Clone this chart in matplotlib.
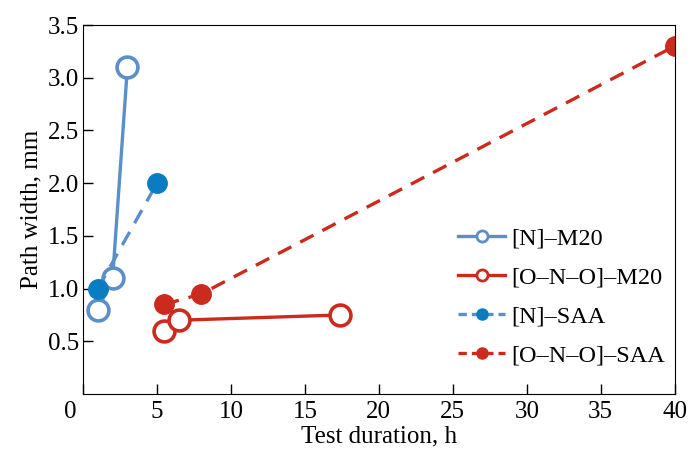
import matplotlib.pyplot as plt
import matplotlib.transforms as mtransforms
from matplotlib.lines import Line2D

# data
n_m20_x = [1.0, 2.0, 3.0]
n_m20_y = [0.8, 1.1, 3.1]
ono_m20_x = [5.5, 6.5, 17.4]
ono_m20_y = [0.6, 0.7, 0.75]
n_saa_x = [1.0, 5.0]
n_saa_y = [1.0, 2.0]
ono_saa_x = [5.5, 8.0, 40.0]
ono_saa_y = [0.85, 0.95, 3.3]

labels = ["[N]–M20", "[O–N–O]–M20", "[N]–SAA", "[O–N–O]–SAA"]

blue = "#5b8fc9"
blue_dot = "#0a7dc2"
red = "#cc2a1c"

plt.rcParams['font.family'] = ['Liberation Serif', 'DejaVu Serif']

fig = plt.figure(figsize=(6.92, 4.55), dpi=100)
ax = fig.add_axes([0.12, 0.134, 0.855, 0.811])

dash = (0, (4.5, 3))
ax.plot(n_m20_x, n_m20_y, '-', color=blue, lw=2.4, marker='o', ms=15,
        mfc='white', mec=blue, mew=2.6, zorder=2)
ax.plot(ono_saa_x, ono_saa_y, linestyle=dash, color=red, lw=2.4, marker='o', ms=14,
        mfc=red, mec=red, zorder=2)
ax.plot(ono_m20_x, ono_m20_y, '-', color=red, lw=2.4, marker='o', ms=15,
        mfc='white', mec=red, mew=2.6, zorder=3)
ax.plot(n_saa_x, n_saa_y, linestyle=dash, color=blue, lw=2.4, marker='o', ms=14,
        mfc=blue_dot, mec=blue_dot, zorder=4)

ax.set_xlim(0, 40)
ax.set_ylim(0, 3.5)
ax.set_xticks(range(0, 41, 5))
ax.set_yticks([0.5, 1.0, 1.5, 2.0, 2.5, 3.0, 3.5])
ax.set_yticklabels(["0.5", "1.0", "1.5", "2.0", "2.5", "3.0", "3.5"])
ax.tick_params(direction='in', length=7, width=1, labelsize=18)
ax.tick_params(axis='x', pad=5)
ax.tick_params(axis='y', pad=3)
ax.set_xlabel("Test duration, h", fontsize=18, labelpad=2)
ax.set_ylabel("Path width, mm", fontsize=18, labelpad=4)

# the "0" label sits left of the spine in the original
lab0 = ax.get_xticklabels()[0]
lab0.set_transform(lab0.get_transform() +
                   mtransforms.ScaledTranslation(-0.13, 0, fig.dpi_scale_trans))

handles = [
    Line2D([], [], color=blue, lw=2.4, marker='o', ms=8, mfc='white', mec=blue, mew=2),
    Line2D([], [], color=red, lw=2.4, marker='o', ms=8, mfc='white', mec=red, mew=2),
    Line2D([], [], color=blue, lw=2.4, linestyle=(0, (2.5, 1.5)), marker='o', ms=8,
           mfc=blue_dot, mec=blue_dot),
    Line2D([], [], color=red, lw=2.4, linestyle=(0, (2.5, 1.5)), marker='o', ms=8,
           mfc=red, mec=red),
]
fig.legend(handles, labels, loc='center left', bbox_to_anchor=(0.63, 0.347),
           frameon=False, fontsize=17.5, handlelength=1.95, labelspacing=0.7,
           handletextpad=0.25)

fig.savefig("out.png", dpi=100)
